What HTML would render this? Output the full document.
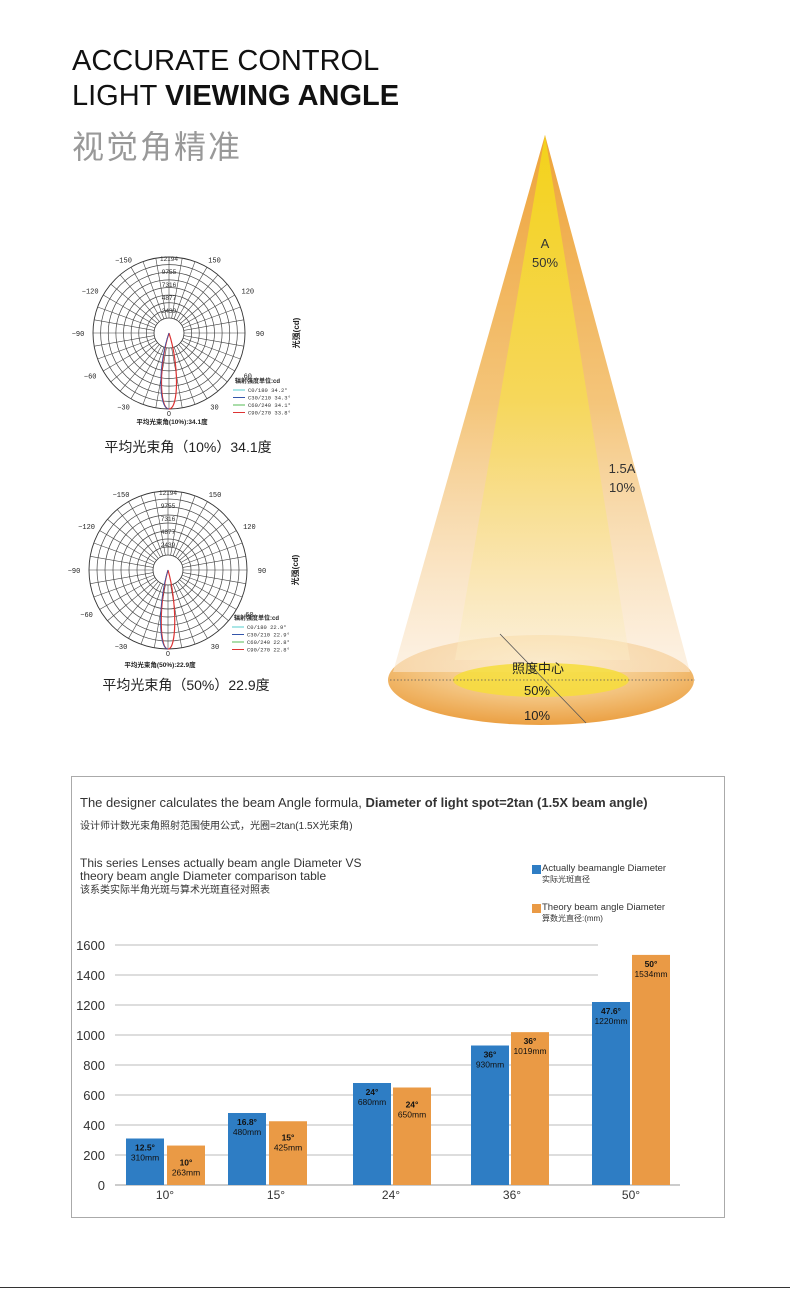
<!DOCTYPE html>
<html><head><meta charset="utf-8"><style>
body{margin:0;width:790px;height:1289px;background:#fff;position:relative;overflow:hidden;font-family:"Liberation Sans","Noto Sans CJK SC",sans-serif}
.a{position:absolute;white-space:nowrap}
</style></head><body>
<div class="a" style="left:72px;top:45px;font-size:29px;color:#111">ACCURATE CONTROL</div>
<div class="a" style="left:72px;top:80px;font-size:29px;color:#111">LIGHT <b>VIEWING ANGLE</b></div>
<div class="a" style="left:72px;top:122px;font-size:32px;color:#999;letter-spacing:2px">视觉角精准</div>

<svg class="a" style="left:0;top:0" width="790" height="760" id="top">
<defs>
<linearGradient id="cone" x1="0" y1="0" x2="0" y2="1">
<stop offset="0" stop-color="#eea33a"/><stop offset="0.5" stop-color="#f4c57a"/><stop offset="1" stop-color="#fbe9d2" stop-opacity="0.6"/></linearGradient>
<linearGradient id="inner" x1="0" y1="0" x2="0" y2="1">
<stop offset="0" stop-color="#f3d21a"/><stop offset="0.5" stop-color="#f6d75a"/><stop offset="1" stop-color="#fbeecb" stop-opacity="0.4"/></linearGradient>
<radialGradient id="disc" cx="0.5" cy="0.3" r="0.7">
<stop offset="0" stop-color="#fbe7c0"/><stop offset="0.6" stop-color="#f3c27c"/><stop offset="1" stop-color="#eba043"/></radialGradient>
</defs>
<ellipse cx="541" cy="680" rx="153" ry="45" fill="url(#disc)"/>
<polygon points="545,135 393,672 690,672" fill="url(#cone)"/>
<polygon points="545,135 455,660 630,660" fill="url(#inner)"/>
<ellipse cx="541" cy="680" rx="88" ry="17" fill="#f6dd3a" opacity="0.85"/>
<line x1="390" y1="680" x2="695" y2="680" stroke="#555" stroke-width="0.8" stroke-dasharray="1.5,2"/>
<line x1="500" y1="634" x2="586" y2="723" stroke="#555" stroke-width="0.8"/>
<text x="545" y="248" font-size="13" text-anchor="middle" fill="#333">A</text>
<text x="545" y="267" font-size="13" text-anchor="middle" fill="#333">50%</text>
<text x="622" y="473" font-size="13" text-anchor="middle" fill="#333">1.5A</text>
<text x="622" y="492" font-size="13" text-anchor="middle" fill="#333">10%</text>
<text x="538" y="673" font-size="13" text-anchor="middle" fill="#222">照度中心</text>
<text x="537" y="695" font-size="13" text-anchor="middle" fill="#222">50%</text>
<text x="537" y="720" font-size="13" text-anchor="middle" fill="#222">10%</text>
<g id="p1"></g><g id="p2"></g>
<text x="188" y="452" font-size="14" text-anchor="middle" fill="#222">平均光束角（10%）34.1度</text>
<text x="186" y="690" font-size="14" text-anchor="middle" fill="#222">平均光束角（50%）22.9度</text>
</svg>

<div class="a" style="left:71px;top:776px;width:652px;height:440px;border:1px solid #aaa"></div>
<div class="a" style="left:80px;top:795px;font-size:13px;color:#333">The designer calculates the beam Angle formula, <b>Diameter of light spot=2tan (1.5X beam angle)</b></div>
<div class="a" style="left:80px;top:817px;font-size:10px;color:#333">设计师计数光束角照射范围使用公式，光圈=2tan(1.5X光束角)</div>
<div class="a" style="left:80px;top:857px;font-size:12px;color:#333;line-height:13px">This series Lenses actually beam angle Diameter VS<br>theory beam angle Diameter comparison table<br><span style="font-size:10px">该系类实际半角光斑与算术光斑直径对照表</span></div>
<div class="a" style="left:532px;top:865px;width:9px;height:9px;background:#2e7dc4"></div>
<div class="a" style="left:542px;top:863px;font-size:9.5px;color:#333;line-height:11px">Actually beamangle Diameter<br><span style="font-size:8px">实际光斑直径</span></div>
<div class="a" style="left:532px;top:904px;width:9px;height:9px;background:#ea9a45"></div>
<div class="a" style="left:542px;top:902px;font-size:9.5px;color:#333;line-height:11px">Theory beam angle Diameter<br><span style="font-size:8px">算数光直径:(mm)</span></div>

<svg class="a" style="left:0;top:930px" width="790" height="280" id="bar"></svg>
<div class="a" style="left:0;top:1287px;width:790px;height:1px;background:#333"></div>

<script>
var NS="http://www.w3.org/2000/svg";
function el(p,t,a,txt){var e=document.createElementNS(NS,t);for(var k in a)e.setAttribute(k,a[k]);if(txt!=null)e.textContent=txt;p.appendChild(e);return e;}
function polar(g,cx,cy,R,labs,leg){
 var r0=15;
 el(g,"circle",{cx:cx,cy:cy,r:R,fill:"#fff",stroke:"#333","stroke-width":0.9});
 for(var a=0;a<360;a+=10){var t=a*Math.PI/180;el(g,"line",{x1:cx+r0*Math.cos(t),y1:cy+r0*Math.sin(t),x2:cx+R*Math.cos(t),y2:cy+R*Math.sin(t),stroke:"#444","stroke-width":0.6});}
 var n=8;for(var i=1;i<n;i++){var r=r0+(R-r0)*i/n;el(g,"circle",{cx:cx,cy:cy,r:r,fill:"none",stroke:"#444","stroke-width":0.7});}
 el(g,"circle",{cx:cx,cy:cy,r:r0,fill:"#fff",stroke:"#333","stroke-width":0.8});
 var w=leg;
 el(g,"path",{d:"M"+cx+","+cy+" C"+(cx-w)+","+(cy+R*0.4)+" "+(cx-w)+","+(cy+R)+" "+cx+","+(cy+R)+" C"+(cx+w)+","+(cy+R)+" "+(cx+w)+","+(cy+R*0.4)+" "+cx+","+cy,fill:"none",stroke:"#d33","stroke-width":1.2});
 el(g,"path",{d:"M"+cx+","+cy+" C"+(cx-w-1)+","+(cy+R*0.4)+" "+(cx-w-1)+","+(cy+R)+" "+cx+","+(cy+R),fill:"none",stroke:"#35a","stroke-width":0.8});
 [-150,150,-120,120,-90,90,-60,60,-30,30].forEach(function(v){var t=v*Math.PI/180;
  el(g,"text",{x:cx+(R+15)*Math.sin(t),y:cy+(R+9)*Math.cos(t)+3,"font-size":7,"text-anchor":"middle",fill:"#222","font-family":"Liberation Mono"},String(v).replace("-","−"));});
 el(g,"text",{x:cx,y:cy+R+7,"font-size":7,"text-anchor":"middle",fill:"#222"},"0");
 [["12194",R-1],["9755",R-14],["7316",R-27],["4877",R-40],["2439",R-53]].forEach(function(l){el(g,"text",{x:cx,y:cy-l[1]+3,"font-size":6.5,"text-anchor":"middle",fill:"#333"},l[0]);});
 el(g,"text",{x:cx+130,y:cy,"font-size":8,"font-weight":"bold",fill:"#222",transform:"rotate(-90 "+(cx+130)+" "+cy+")","text-anchor":"middle"},"光强(cd)");
 var lx=cx+66,ly=cy+50;
 el(g,"text",{x:lx,y:ly,"font-size":6,"font-weight":"bold",fill:"#222"},"辐射强度单位:cd");
 var cols=["#5cc","#35a","#5b5","#d33"];
 for(var i=0;i<4;i++){el(g,"line",{x1:lx-2,y1:ly+7+i*7.5,x2:lx+10,y2:ly+7+i*7.5,stroke:cols[i]});el(g,"text",{x:lx+13,y:ly+9+i*7.5,"font-size":5.5,fill:"#333","font-family":"Liberation Mono"},labs[i]);}
}
polar(document.getElementById("p1"),169,333,76,["C0/180 34.2°","C30/210 34.3°","C60/240 34.1°","C90/270 33.8°"],10);
el(document.getElementById("p1"),"text",{x:172,y:424,"font-size":6.5,"font-weight":"bold",fill:"#222","text-anchor":"middle"},"平均光束角(10%):34.1度");
polar(document.getElementById("p2"),168,570,79,["C0/180 22.9°","C30/210 22.9°","C60/240 22.8°","C90/270 22.8°"],9);
el(document.getElementById("p2"),"text",{x:160,y:667,"font-size":6.5,"font-weight":"bold",fill:"#222","text-anchor":"middle"},"平均光束角(50%):22.9度");

var b=document.getElementById("bar"),y0=255,s=0.15;
for(var v=0;v<=1600;v+=200){var y=y0-v*s;
 if(v>0)el(b,"line",{x1:115,y1:y,x2:598,y2:y,stroke:"#bbb","stroke-width":1});
 el(b,"text",{x:105,y:y+5,"font-size":13,"text-anchor":"end",fill:"#333"},v);}
el(b,"line",{x1:115,y1:y0,x2:680,y2:y0,stroke:"#999","stroke-width":1});
var data=[[126,167,310,263,"12.5°","10°","10°",165],[228,269,480,425,"16.8°","15°","15°",276],[353,393,680,650,"24°","24°","24°",391],[471,511,930,1019,"36°","36°","36°",512],[592,632,1220,1534,"47.6°","50°","50°",631]];
data.forEach(function(d){
 var h1=d[2]*s,h2=d[3]*s;
 el(b,"rect",{x:d[0],y:y0-h1,width:38,height:h1,fill:"#2e7dc4"});
 el(b,"rect",{x:d[1],y:y0-h2,width:38,height:h2,fill:"#ea9a45"});
 var t1=y0-h1+12,t2=y0-h2+12;
 if(d[3]==263){t2=y0-h2+20;} if(d[3]==425){t2=y0-h2+19;} if(d[3]==650){t2=y0-h2+20;}
 el(b,"text",{x:d[0]+19,y:t1,"font-size":8.5,"font-weight":"bold","text-anchor":"middle",fill:"#111"},d[4]);
 el(b,"text",{x:d[0]+19,y:t1+10,"font-size":8.5,"text-anchor":"middle",fill:"#111"},d[2]+"mm");
 el(b,"text",{x:d[1]+19,y:t2,"font-size":8.5,"font-weight":"bold","text-anchor":"middle",fill:"#111"},d[5]);
 el(b,"text",{x:d[1]+19,y:t2+10,"font-size":8.5,"text-anchor":"middle",fill:"#111"},d[3]+"mm");
 el(b,"text",{x:d[7],y:y0+14,"font-size":12,"text-anchor":"middle",fill:"#333"},d[6]);
});
</script>
</body></html>
